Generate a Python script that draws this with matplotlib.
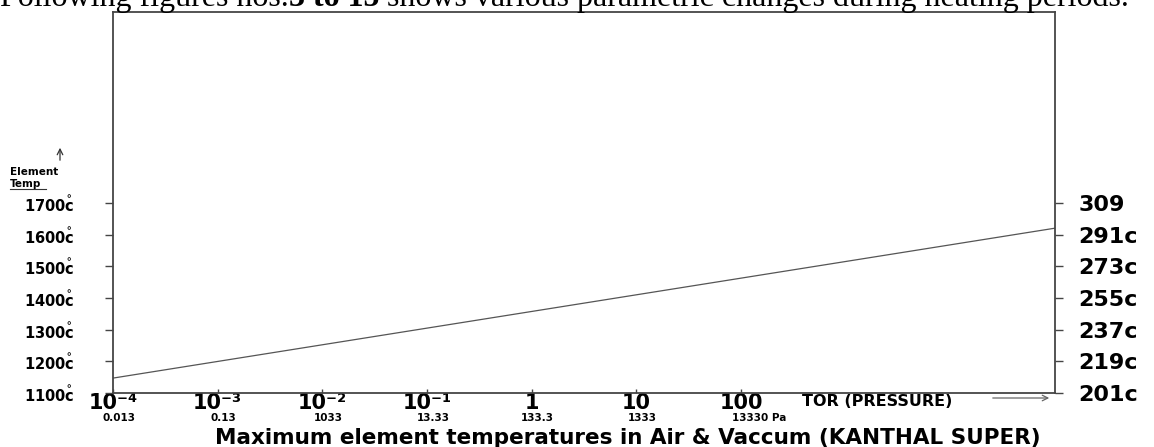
import numpy as np
import matplotlib.pyplot as plt
from matplotlib.ticker import NullLocator

plt.rcParams['font.family'] = ['DejaVu Sans']
plt.rcParams['font.weight'] = 'bold'
plt.rcParams['mathtext.fontset'] = 'dejavusans'

# element temperature vs vacuum pressure
pressure_torr = [1e-4, 1e5]
element_temp = [1147, 1620]

torr_ticks = [1e-4, 1e-3, 1e-2, 1e-1, 1, 10, 100]
torr_labels = ['10⁻⁴', '10⁻³', '10⁻²', '10⁻¹', '1', '10', '100']
pa_labels = ['0.013', '0.13', '1033', '13.33', '133.3', '1333', '13330 Pa']

temp_ticks = [1100, 1200, 1300, 1400, 1500, 1600, 1700]
temp_labels = [str(t) + r'$\overset{\circ}{\mathbf{c}}$' for t in temp_ticks]
right_labels = ['201c', '219c', '237c', '255c', '273c', '291c', '309']

W, H = 1154, 447
fig = plt.figure(figsize=(W / 100, H / 100), dpi=100)
ax = fig.add_axes([113 / W, 1 - 393 / H, (1055 - 113) / W, (393 - 12) / H])

ax.plot(pressure_torr, element_temp, color='#555555', lw=0.9)

ax.set_xscale('log')
ax.set_xlim(1e-4, 1e5)
ax.set_ylim(1100, 2302)
ax.xaxis.set_minor_locator(NullLocator())

for s in ax.spines.values():
    s.set_color('#454545')
    s.set_linewidth(1.3)

ax.set_xticks(torr_ticks, labels=torr_labels)
ax.tick_params(axis='x', direction='in', length=3, width=1, color='#454545',
               labelsize=15, pad=0)
ax.set_yticks(temp_ticks, labels=temp_labels)
ax.tick_params(axis='y', direction='out', length=6, width=1, color='#454545',
               labelsize=10.5, pad=22)

ax2 = ax.twinx()
ax2.set_ylim(ax.get_ylim())
ax2.set_yticks(temp_ticks, labels=right_labels)
ax2.tick_params(axis='y', direction='out', length=6, width=1, color='#454545',
                labelsize=16, pad=11)
for s in ax2.spines.values():
    s.set_visible(False)

# pressure in Pa under each torr tick
for x, lab in zip(torr_ticks, pa_labels):
    last = lab == pa_labels[-1]
    ax.annotate(lab, (x, 0), xycoords=('data', 'axes fraction'),
                xytext=(-9 if last else 6, -20), textcoords='offset pixels',
                ha='left' if last else 'center', va='top', fontsize=7.5)

fig.text(802 / W, 1 - 406 / H, 'TOR (PRESSURE)', fontsize=11.5, va='baseline')
ax.annotate('', xy=(1052 / W, 1 - 398 / H), xytext=(990 / W, 1 - 398 / H),
            xycoords='figure fraction', textcoords='figure fraction',
            arrowprops=dict(arrowstyle='->', color='#666666', lw=0.9))

fig.text(628 / W, 3 / H, 'Maximum element temperatures in Air & Vaccum (KANTHAL SUPER)',
         fontsize=15.5, ha='center', va='baseline')

# axis caption on the left
fig.text(10 / W, 1 - 175 / H, 'Element', fontsize=7.5, va='baseline')
fig.text(10 / W, 1 - 187 / H, 'Temp', fontsize=7.5, va='baseline')
fig.add_artist(plt.Line2D([10 / W, 46 / W], [1 - 189 / H, 1 - 189 / H],
                          color='#333333', lw=0.8))
ax.annotate('', xy=(60 / W, 1 - 145 / H), xytext=(60 / W, 1 - 163 / H),
            xycoords='figure fraction', textcoords='figure fraction',
            arrowprops=dict(arrowstyle='->', color='#333333', lw=0.9))

# running sentence above the chart
renderer = fig.canvas.get_renderer()
x0 = 0.0
for piece, weight in [('Following figures nos.', 'normal'), ('3 to 15', 'bold'),
                      (' shows various parametric changes during heating periods.', 'normal')]:
    t = fig.text(x0, 1 - 6 / H, piece, family='Liberation Serif', fontsize=23,
                 weight=weight, va='baseline')
    x0 += t.get_window_extent(renderer).width / W

fig.savefig('out.png', dpi=100)
